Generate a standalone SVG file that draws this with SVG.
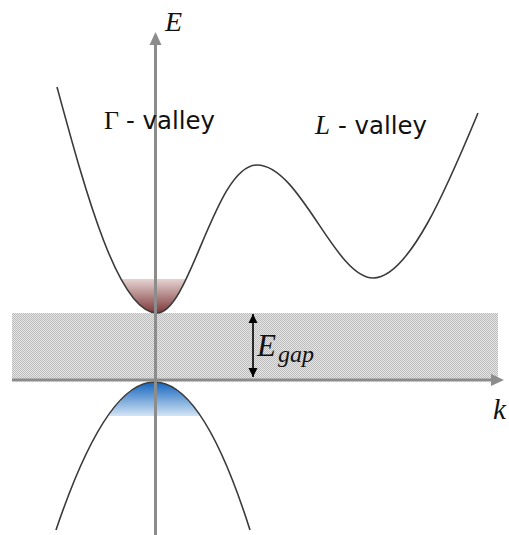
<svg xmlns="http://www.w3.org/2000/svg" width="509" height="535" viewBox="0 0 509 535">
<style>
.axis{stroke:#8c8c8c;stroke-width:3;fill:none}
.curve{stroke:#3a3a3a;stroke-width:1.6;fill:none}
.serif{font-family:"Liberation Serif","DejaVu Serif",serif;font-style:italic;fill:#111}
.sans{font-family:"DejaVu Sans","Liberation Sans",sans-serif;fill:#111}
</style>
<defs>
<pattern id="dots" width="2" height="2" patternUnits="userSpaceOnUse">
<rect width="2" height="2" fill="#e6e6e6"/>
<rect width="1" height="1" fill="#bcbcbc"/>
<rect x="1" y="1" width="1" height="1" fill="#bcbcbc"/>
</pattern>
<linearGradient id="brown" x1="0" y1="0" x2="0" y2="1">
<stop offset="0" stop-color="#e6d2d2"/>
<stop offset="1" stop-color="#7a3434"/>
</linearGradient>
<linearGradient id="blue" x1="0" y1="0" x2="0" y2="1">
<stop offset="0" stop-color="#0f62bd"/>
<stop offset="1" stop-color="#d3e4f4"/>
</linearGradient>
<clipPath id="upclip">
<path d="M57,87 C85,190 118,313 157,313 C190,313 215,165 257,165 L57,87 Z"/>
</clipPath>
<clipPath id="lowclip">
<path d="M58,530 Q156,234 250,530 Z"/>
</clipPath>
<marker id="ah" markerWidth="10" markerHeight="10" refX="9" refY="5" orient="auto" markerUnits="userSpaceOnUse">
<path d="M0,0.5 L9,5 L0,9.5 Z" fill="#000"/>
</marker>
</defs>
<g id="band">
<rect x="12" y="313" width="486" height="67" fill="url(#dots)"/>
</g>
<g id="fills">
<rect x="60" y="279" width="200" height="35" fill="url(#brown)" clip-path="url(#upclip)"/>
<rect x="60" y="381" width="200" height="35" fill="url(#blue)" clip-path="url(#lowclip)"/>
</g>
<g id="curves">
<path class="curve" d="M57,87 C85,190 118,313 157,313 C190,313 215,165 257,165 C300,165 335,278 373,278 C410,278 450,180 478,113"/>
<path class="curve" d="M56,530 Q156,234 250,530"/>
</g>
<g id="axes">
<line class="axis" x1="155.5" y1="535" x2="155.5" y2="44"/>
<path d="M149.5,45 L155.5,32 L161.5,45 Z" fill="#8c8c8c"/>
<line class="axis" x1="12" y1="380" x2="492" y2="380"/>
<path d="M491,374 L504,380 L491,386 Z" fill="#8c8c8c"/>
</g>
<g id="egap">
<line x1="253" y1="330" x2="253" y2="360" stroke="#000" stroke-width="1.6"/>
<line x1="253" y1="330" x2="253" y2="314" stroke="#000" stroke-width="1.6" marker-end="url(#ah)"/>
<line x1="253" y1="360" x2="253" y2="377" stroke="#000" stroke-width="1.6" marker-end="url(#ah)"/>
<text class="serif" x="257" y="356" font-size="31">E</text>
<text class="serif" x="278" y="362" font-size="24">gap</text>
</g>
<g id="labels">
<text class="serif" x="165" y="31" font-size="28">E</text>
<text class="serif" x="493" y="419" font-size="29">k</text>
<text x="104" y="129" font-size="26" style="font-family:'Liberation Serif','DejaVu Serif',serif;fill:#111">Γ</text>
<text class="sans" x="126" y="129" font-size="25" textLength="89" lengthAdjust="spacingAndGlyphs">- valley</text>
<text class="serif" x="315" y="134" font-size="27">L</text>
<text class="sans" x="338" y="134" font-size="25" textLength="89" lengthAdjust="spacingAndGlyphs">- valley</text>
</g>
</svg>
